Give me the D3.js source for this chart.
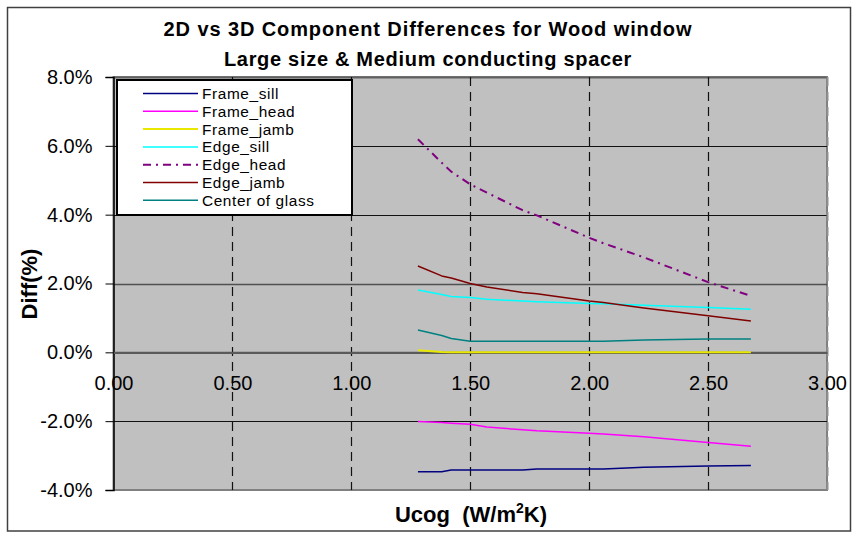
<!DOCTYPE html>
<html><head><meta charset="utf-8">
<script src="https://cdn.jsdelivr.net/npm/d3@7"></script>
<style>
html,body{margin:0;padding:0;background:#fff;}
svg{display:block;font-family:"Liberation Sans",Arial,sans-serif;}
</style></head>
<body>
<svg id="chart" width="853" height="533"></svg>
<script>
// ---- data ----
const ucog        = [1.28, 1.38, 1.42, 1.50, 1.57, 1.72, 1.78, 2.00, 2.06, 2.23, 2.50, 2.68];
const frameSill   = [-3.47, -3.47, -3.42, -3.42, -3.42, -3.42, -3.39, -3.39, -3.39, -3.34, -3.30, -3.29];
const frameHead   = [-2.01, -2.04, -2.06, -2.09, -2.17, -2.25, -2.28, -2.35, -2.37, -2.45, -2.62, -2.73];
const frameJamb   = [0.06, 0.01, 0.00, 0.00, 0.00, 0.00, 0.00, 0.00, 0.00, 0.00, 0.00, 0.00];
const edgeSill    = [1.81, 1.68, 1.62, 1.59, 1.54, 1.49, 1.47, 1.42, 1.41, 1.37, 1.30, 1.25];
const edgeHead    = [6.19, 5.51, 5.25, 4.88, 4.64, 4.13, 3.98, 3.33, 3.17, 2.76, 2.04, 1.64];
const edgeJamb    = [2.51, 2.22, 2.16, 2.00, 1.90, 1.74, 1.70, 1.49, 1.45, 1.29, 1.06, 0.91];
const centerGlass = [0.65, 0.49, 0.40, 0.32, 0.32, 0.32, 0.32, 0.32, 0.32, 0.36, 0.39, 0.39];
const seriesNames = ["Frame_sill", "Frame_head", "Frame_jamb", "Edge_sill", "Edge_head", "Edge_jamb", "Center of glass"];
const seriesValues = [frameSill, frameHead, frameJamb, edgeSill, edgeHead, edgeJamb, centerGlass];
const yTicks = [-4, -2, 0, 2, 4, 6, 8];
const xTicks = [0, 0.5, 1.0, 1.5, 2.0, 2.5, 3.0];
const titleLines = ["2D vs 3D Component Differences for Wood window", "Large size & Medium conducting spacer"];

// ---- styles ----
const colors = ["#000080", "#FF00FF", "#E8E800", "#00FFFF", "#800080", "#800000", "#008080"];
const dashes = [null, null, null, null, "8,5,2,5", null, null];
const widths = [1.5, 1.5, 2, 1.5, 2, 1.5, 1.5];

const svg = d3.select("#chart");
const L = 113.5, R = 827, T = 77, B = 490;
const x = d3.scaleLinear().domain([0, 3]).range([L, R]);
const y = d3.scaleLinear().domain([-4, 8]).range([B, T]);
const hy = s => s.replace("\u2212", "-");

// outer border
svg.append("rect").attr("x", 7.5).attr("y", 7.5).attr("width", 843).attr("height", 523.5)
  .attr("fill", "#fff").attr("stroke", "#404040").attr("stroke-width", 1.5);

// plot area
svg.append("rect").attr("x", L).attr("y", T).attr("width", R - L).attr("height", B - T)
  .attr("fill", "#C0C0C0").attr("stroke", "#808080").attr("stroke-width", 2);

// horizontal gridlines
svg.append("g").selectAll("line").data(yTicks.filter(v => v !== 0 && v !== -4)).join("line")
  .attr("x1", L).attr("x2", R).attr("y1", d => Math.round(y(d)) + 0.5).attr("y2", d => Math.round(y(d)) + 0.5)
  .attr("stroke", d => d === 2 ? "#505050" : (d === 8 ? "#606060" : "#111"))
  .attr("stroke-width", d => d === 2 ? 1.6 : (d === 8 ? 2 : 1.2));

// vertical dashed gridlines
svg.append("g").selectAll("line").data(xTicks.filter(v => v > 0)).join("line")
  .attr("x1", d => Math.round(x(d)) + 0.5).attr("x2", d => Math.round(x(d)) + 0.5)
  .attr("y1", T).attr("y2", B)
  .attr("stroke", d => d === 3 ? "#909090" : "#111").attr("stroke-width", d => d === 3 ? 2 : 1.2)
  .attr("stroke-dasharray", "9,6");

// y axis
const yAxis = svg.append("g").attr("transform", `translate(${L},0)`)
  .call(d3.axisLeft(y).tickValues(yTicks).tickSize(8).tickPadding(13)
    .tickFormat(d => hy(d3.format(".1f")(d)) + "%"));
yAxis.select(".domain").attr("stroke", "#000").attr("stroke-width", 1.5);
yAxis.selectAll(".tick line").attr("stroke", "#000");
yAxis.selectAll("text").attr("font-size", 20).attr("fill", "#000")
  .attr("font-family", "Liberation Sans, Arial, sans-serif");

// x axis crossing at y = 0
const xAxis = svg.append("g").attr("transform", `translate(0,${y(0)})`)
  .call(d3.axisBottom(x).tickValues(xTicks).tickSizeInner(0).tickSizeOuter(0).tickPadding(23)
    .tickFormat(d3.format(".2f")));
xAxis.select(".domain").attr("stroke", "#5a5a5a").attr("stroke-width", 2.2);
xAxis.selectAll("text").attr("font-size", 20).attr("fill", "#000")
  .attr("font-family", "Liberation Sans, Arial, sans-serif");

// series lines
const line = d3.line().x((d, i) => x(ucog[i])).y(d => y(d));
svg.append("g").selectAll("path").data(seriesValues).join("path")
  .attr("d", d => line(d))
  .attr("fill", "none")
  .attr("stroke", (d, i) => colors[i])
  .attr("stroke-width", (d, i) => widths[i])
  .attr("stroke-dasharray", (d, i) => dashes[i])
  .attr("stroke-linejoin", "round");

// legend
const lg = svg.append("g");
lg.append("rect").attr("x", 117).attr("y", 80).attr("width", 235).attr("height", 135)
  .attr("fill", "#fff").attr("stroke", "#000").attr("stroke-width", 2);
const rows = lg.selectAll("g.row").data(seriesNames).join("g").attr("class", "row")
  .attr("transform", (d, i) => `translate(0,${93.5 + i * 17.8})`);
rows.append("line").attr("x1", 143).attr("x2", 198).attr("y1", 0).attr("y2", 0)
  .attr("stroke", (d, i) => colors[i]).attr("stroke-width", (d, i) => widths[i])
  .attr("stroke-dasharray", (d, i) => dashes[i]);
rows.append("text").attr("x", 202).attr("y", 5.5).attr("font-size", 15.4).attr("fill", "#000")
  .attr("letter-spacing", 0.6)
  .text(d => d);

// title
svg.append("g").selectAll("text").data(titleLines).join("text")
  .attr("x", 428).attr("y", (d, i) => 35.5 + i * 30)
  .attr("text-anchor", "middle").attr("font-size", 20).attr("font-weight", "bold")
  .attr("letter-spacing", (d, i) => i === 0 ? 0.9 : 0.7)
  .text(d => d);

// axis titles
const xt = svg.append("text").attr("x", 471).attr("y", 522).attr("text-anchor", "middle")
  .attr("font-size", 22).attr("font-weight", "bold").style("white-space", "pre");
xt.append("tspan").text("Ucog  (W/m");
xt.append("tspan").attr("font-size", 14).attr("dy", -9).text("2");
xt.append("tspan").attr("dy", 9).text("K)");

svg.append("text").attr("transform", "translate(37,284) rotate(-90)")
  .attr("text-anchor", "middle").attr("font-size", 22).attr("font-weight", "bold")
  .text("Diff(%)");
</script>
</body></html>
